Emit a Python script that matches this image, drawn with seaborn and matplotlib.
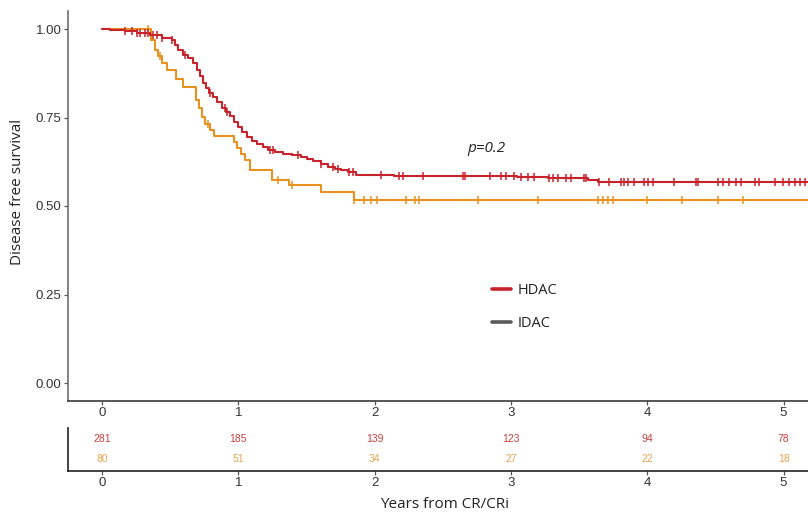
import numpy as np
import pandas as pd
import matplotlib
matplotlib.use("Agg")
import matplotlib.pyplot as plt
import seaborn as sns
from matplotlib.lines import Line2D

# ---- Kaplan-Meier step data (years, survival after each drop) ----
hdac_times = [0.059, 0.169, 0.257, 0.353, 0.441, 0.515, 0.537, 0.559, 0.596, 0.632,
              0.669, 0.699, 0.721, 0.743, 0.765, 0.787, 0.816, 0.846, 0.882, 0.912,
              0.941, 0.971, 1.000, 1.029, 1.066, 1.103, 1.140, 1.184, 1.221, 1.272,
              1.331, 1.397, 1.456, 1.507, 1.551, 1.603, 1.654, 1.706, 1.750, 1.801,
              1.860, 2.140, 3.044, 3.272, 3.566, 3.640]
hdac_surv = [0.997, 0.994, 0.989, 0.983, 0.975, 0.969, 0.955, 0.941, 0.927, 0.918,
             0.904, 0.884, 0.867, 0.847, 0.833, 0.819, 0.808, 0.794, 0.777, 0.766,
             0.754, 0.737, 0.723, 0.709, 0.695, 0.684, 0.675, 0.667, 0.658, 0.653,
             0.647, 0.644, 0.638, 0.633, 0.627, 0.619, 0.610, 0.605, 0.602, 0.596,
             0.588, 0.584, 0.581, 0.578, 0.573, 0.568]

idac_times = [0.360, 0.390, 0.412, 0.441, 0.478, 0.544, 0.596, 0.691, 0.713, 0.735,
              0.757, 0.794, 0.824, 0.971, 0.993, 1.022, 1.051, 1.088, 1.250, 1.368,
              1.603, 1.846]
idac_surv = [0.969, 0.941, 0.924, 0.904, 0.884, 0.859, 0.836, 0.799, 0.777, 0.751,
             0.732, 0.715, 0.698, 0.681, 0.664, 0.647, 0.630, 0.602, 0.573, 0.559,
             0.540, 0.517]

# censoring times (years)
hdac_censor = [0.169, 0.221, 0.257, 0.279, 0.316, 0.338, 0.375, 0.404, 0.441, 0.515,
               0.610, 0.794, 0.904, 0.919, 1.235, 1.257, 1.441, 1.603, 1.691, 1.728,
               1.809, 1.838, 2.044, 2.176, 2.206, 2.353, 2.647, 2.662, 2.846, 2.926,
               2.963, 3.022, 3.074, 3.125, 3.169, 3.279, 3.309, 3.346, 3.404, 3.441,
               3.537, 3.551, 3.647, 3.721, 3.809, 3.831, 3.860, 3.904, 3.978, 4.007,
               4.044, 4.199, 4.360, 4.375, 4.522, 4.559, 4.603, 4.654, 4.691, 4.787,
               4.816, 4.934, 4.993, 5.037, 5.081, 5.118, 5.154, 5.184]
idac_censor = [0.338, 0.426, 0.779, 1.294, 1.397, 1.846, 1.919, 1.971, 2.015, 2.228,
               2.294, 2.324, 2.757, 3.199, 3.640, 3.676, 3.713, 3.750, 4.000, 4.257,
               4.522, 4.699]

end_time = 5.35

# numbers at risk
risk_times = [0, 1, 2, 3, 4, 5]
hdac_risk = [281, 185, 139, 123, 94, 78]
idac_risk = [80, 51, 34, 27, 22, 18]

arms = ["HDAC", "IDAC"]
red = "#c8232c"
orange = "#e8911f"
palette = {"HDAC": red, "IDAC": orange}


def curve_frame(arm, times, surv):
    t = [0.0] + list(times) + [end_time]
    s = [1.0] + list(surv) + [surv[-1]]
    return pd.DataFrame({"time": t, "surv": s, "arm": arm})


def censor_frame(arm, ctimes, times, surv):
    steps_t = np.asarray(times)
    steps_s = np.concatenate([[1.0], surv])
    idx = np.searchsorted(steps_t, np.asarray(ctimes), side="right")
    return pd.DataFrame({"time": ctimes, "surv": steps_s[idx], "arm": arm})


curves = pd.concat([curve_frame("HDAC", hdac_times, hdac_surv),
                    curve_frame("IDAC", idac_times, idac_surv)], ignore_index=True)
censors = pd.concat([censor_frame("HDAC", hdac_censor, hdac_times, hdac_surv),
                     censor_frame("IDAC", idac_censor, idac_times, idac_surv)],
                    ignore_index=True)

sns.set_theme(style="white")
plt.rcParams["font.family"] = ["Open Sans", "DejaVu Sans"]

W, H = 808, 516
fig = plt.figure(figsize=(W / 100, H / 100), dpi=100)
ax = fig.add_axes([68 / W, 1 - 400.7 / H, 1 - 68 / W + 0.002, (400.7 - 11.3) / H])
axr = fig.add_axes([68 / W, 1 - 471 / H, 1 - 68 / W + 0.002, 43 / H])

# draw IDAC first so HDAC sits on top
for arm in ["IDAC", "HDAC"]:
    sns.lineplot(data=curves[curves.arm == arm], x="time", y="surv", color=palette[arm],
                 drawstyle="steps-post", estimator=None, sort=False, lw=1.5,
                 ax=ax, legend=False)
    sns.scatterplot(data=censors[censors.arm == arm], x="time", y="surv",
                    color=palette[arm], marker="|", s=40, linewidth=1.1,
                    ax=ax, legend=False, zorder=3)

xlim = (-0.25, 5.191)
ax.set_xlim(*xlim)
ax.set_ylim(-0.05, 1.05)
ax.set_xticks(risk_times)
ax.set_yticks([0, 0.25, 0.5, 0.75, 1.0])
ax.set_yticklabels(["0.00", "0.25", "0.50", "0.75", "1.00"])
ax.set_xlabel("")
ax.set_ylabel("")
for side in ["top", "right"]:
    ax.spines[side].set_visible(False)
ax.spines["left"].set_color("#6e6e6e")
ax.spines["bottom"].set_color("#3a3a3a")
ax.spines["left"].set_linewidth(1.2)
ax.spines["bottom"].set_linewidth(1.2)
ax.tick_params(axis="both", length=3, width=0.9, color="#555555", pad=1.5,
               labelsize=9.5, labelcolor="#333333", left=True, bottom=True)
for lab in ax.get_xticklabels() + ax.get_yticklabels():
    lab.set_fontfamily(["Liberation Sans", "DejaVu Sans"])

ax.text(2.82, 0.662, "p=0.2", ha="center", va="center", fontsize=11,
        style="italic", color="#222222")

handles = [Line2D([], [], color=red, lw=2.6),
           Line2D([], [], color="#5a5a5a", lw=2.6)]
fig.legend(handles, arms, loc="upper left", bbox_to_anchor=(492 / W, 1 - 283 / H),
           frameon=False, fontsize=10.5, handlelength=1.3, handletextpad=0.45,
           labelspacing=1.25, borderpad=0, borderaxespad=0, labelcolor="#222222")

# numbers-at-risk table
risk = pd.DataFrame({"time": risk_times * 2,
                     "row": [1] * len(risk_times) + [0] * len(risk_times),
                     "n": hdac_risk + idac_risk,
                     "arm": ["HDAC"] * len(risk_times) + ["IDAC"] * len(risk_times)})
risk_colors = {"HDAC": "#c8403f", "IDAC": "#e9a24e"}
for _, r in risk.iterrows():
    axr.text(r.time, r.row, str(r.n), ha="center", va="center", fontsize=7.5,
             color=risk_colors[r.arm], family=["Liberation Sans", "DejaVu Sans"])
axr.set_xlim(*xlim)
axr.set_ylim(-0.6, 1.55)
axr.set_xticks(risk_times)
axr.set_yticks([])
for side in ["top", "right"]:
    axr.spines[side].set_visible(False)
for side in ["left", "bottom"]:
    axr.spines[side].set_color("#222222")
    axr.spines[side].set_linewidth(1.2)
axr.tick_params(axis="x", length=3, width=0.9, color="#555555", pad=1.5,
                labelsize=9.5, labelcolor="#333333", bottom=True)
for lab in axr.get_xticklabels():
    lab.set_fontfamily(["Liberation Sans", "DejaVu Sans"])

fig.text(18 / W, 1 - 192 / H, "Disease free survival", rotation=90, ha="center",
         va="center", fontsize=11, color="#222222")
fig.text(445 / W, 1 - 504 / H, "Years from CR/CRi", ha="center", va="center",
         fontsize=11, color="#222222")

fig.savefig("out.png", dpi=100, facecolor="white")
